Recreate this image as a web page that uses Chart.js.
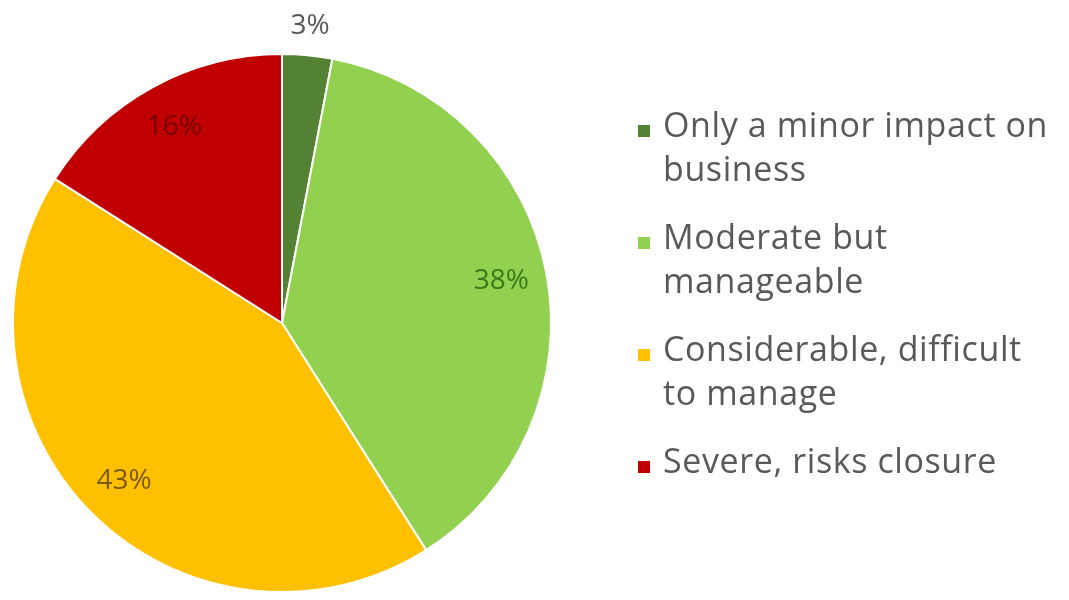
<!DOCTYPE html>
<html>
<head>
<meta charset="utf-8">
<script src="https://cdn.jsdelivr.net/npm/chart.js@4.4.0/dist/chart.umd.min.js"></script>
<style>
  html, body { margin: 0; padding: 0; background: #fff; }
  #wrap { width: 1069px; height: 600px; position: relative; }
</style>
</head>
<body>
<div id="wrap"><canvas id="grafico"></canvas></div>
<script>
// Dados do gráfico
const categorias = [
  ['Only a minor impact on', 'business'],
  ['Moderate but', 'manageable'],
  ['Considerable, difficult', 'to manage'],
  ['Severe, risks closure']
];
const valores = [3, 38, 43, 16];
const cores = ['#548235', '#92D050', '#FFC000', '#C00000'];
const coresRotulo = ['#595959', '#3A7A1A', '#7A5A00', '#750000'];

const fonte = '"Open Sans", Lato, sans-serif';

// Rótulos de porcentagem nas fatias
const rotulosPlugin = {
  id: 'rotulos',
  afterDatasetsDraw(chart) {
    const ctx = chart.ctx;
    const meta = chart.getDatasetMeta(0);
    ctx.save();
    ctx.font = '28px ' + fonte;
    ctx.textAlign = 'center';
    ctx.textBaseline = 'middle';
    meta.data.forEach((arc, i) => {
      const p = arc.getProps(['x', 'y', 'startAngle', 'endAngle', 'outerRadius'], true);
      const meio = (p.startAngle + p.endAngle) / 2;
      const fator = valores[i] < 5 ? 1.11 : 0.83;
      const x = p.x + Math.cos(meio) * p.outerRadius * fator;
      const y = p.y + Math.sin(meio) * p.outerRadius * fator;
      ctx.fillStyle = coresRotulo[i];
      ctx.fillText(valores[i] + '%', x, y);
    });
    ctx.restore();
  }
};

// Legenda desenhada à direita
const legendaPlugin = {
  id: 'legenda',
  afterDraw(chart) {
    const ctx = chart.ctx;
    ctx.save();
    ctx.font = '34px ' + fonte;
    ctx.letterSpacing = '0.6px';
    ctx.textBaseline = 'middle';
    let y = 127;
    categorias.forEach((linhas, i) => {
      ctx.fillStyle = cores[i];
      ctx.fillRect(638, y - 2, 12, 12);
      ctx.fillStyle = '#595959';
      linhas.forEach((linha, j) => {
        ctx.fillText(linha, 663, y + j * 44);
      });
      y += 112;
    });
    ctx.restore();
  }
};

const ctx = document.getElementById('grafico').getContext('2d');
const grafico = new Chart(ctx, {
  type: 'pie',
  data: {
    labels: categorias,
    datasets: [{
      data: valores,
      backgroundColor: cores,
      borderColor: '#ffffff',
      borderWidth: 2
    }]
  },
  options: {
    responsive: true,
    maintainAspectRatio: false,
    animation: false,
    layout: {
      padding: { left: 12, right: 517, top: 53, bottom: 7 }
    },
    plugins: {
      legend: { display: false },
      tooltip: { enabled: false }
    }
  },
  plugins: [rotulosPlugin, legendaPlugin]
});
</script>
</body>
</html>
